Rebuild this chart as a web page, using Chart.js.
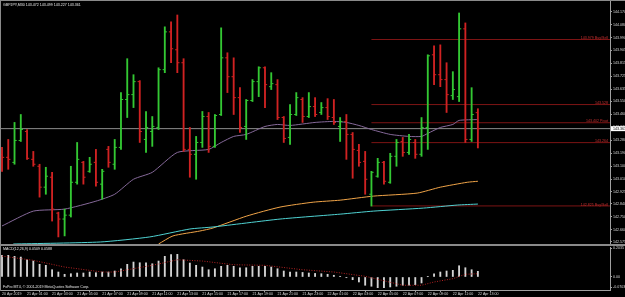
<!DOCTYPE html>
<html>
<head>
<meta charset="utf-8">
<script src="https://cdn.jsdelivr.net/npm/chart.js@4.4.0/dist/chart.umd.min.js"></script>
<style>
  html, body { margin: 0; padding: 0; background: #000; }
  #wrap { position: relative; width: 625px; height: 297px; overflow: hidden; background: #000; }
  canvas { position: absolute; left: 0; }
  #main { top: 0; }
  #macd { top: 244px; }
  .rule { position: absolute; background: #8a8a8a; }
</style>
</head>
<body>
<div id="wrap">
  <canvas id="main" width="625" height="244"></canvas>
  <canvas id="macd" width="625" height="53"></canvas>
  <div class="rule" style="left:0;top:244px;width:625px;height:2px"></div>
  <div class="rule" style="left:0;top:0;width:625px;height:1px"></div>
  <div class="rule" style="left:0;top:0;width:1px;height:291px"></div>
</div>
<script>
// ---------- DATA (GBPJPY M30) ----------
const opens = [143.183,143.162,143.127,143.279,143.341,143.148,143.100,142.955,143.024,142.775,
  142.734,142.761,142.989,143.127,143.065,143.127,142.976,143.217,143.114,143.231,
  143.563,143.597,143.687,143.286,143.341,143.369,143.770,144.032,143.908,143.818,
  143.217,143.183,143.265,143.445,143.238,143.459,143.852,143.721,143.576,143.376,
  143.556,143.687,143.783,143.652,143.666,143.438,143.300,143.459,143.563,143.445,
  143.514,143.473,143.507,143.438,143.376,143.411,143.321,143.210,143.134,142.906,
  143.031,143.127,142.989,143.169,143.272,143.196,143.265,143.183,143.369,143.873,
  143.735,143.701,143.590,143.583,144.053,143.286,143.472];
const highs = [143.231,143.286,143.404,143.459,143.355,143.203,143.114,143.093,143.058,142.782,
  142.803,143.100,143.265,143.134,143.162,143.217,143.079,143.238,143.286,143.611,
  143.846,143.735,143.694,143.480,143.445,143.783,144.067,144.101,144.149,143.846,
  143.369,143.307,143.480,143.473,143.459,144.060,143.887,143.852,143.645,143.563,
  143.701,143.790,143.790,143.749,143.701,143.445,143.528,143.611,143.576,143.611,
  143.576,143.542,143.569,143.563,143.438,143.459,143.334,143.252,143.203,143.065,
  143.155,143.134,143.190,143.286,143.300,143.321,143.286,143.438,143.873,143.935,
  143.942,143.818,143.756,144.163,144.094,143.645,143.499];
const lows = [143.065,143.079,143.114,143.272,143.148,143.100,142.886,142.906,142.720,142.610,
  142.617,142.748,142.976,142.976,143.058,142.962,142.872,143.093,143.079,143.217,
  143.438,143.507,143.265,143.196,143.238,143.355,143.749,143.818,143.749,143.203,
  143.024,143.010,143.231,143.196,143.231,143.452,143.611,143.459,143.334,143.286,
  143.549,143.583,143.507,143.632,143.424,143.265,143.252,143.452,143.404,143.438,
  143.445,143.459,143.424,143.390,143.272,143.148,143.017,143.100,142.906,142.824,
  143.024,142.976,142.982,143.100,143.169,143.183,143.155,143.169,143.217,143.666,
  143.652,143.473,143.563,143.549,143.265,143.272,143.227];
const closes = [143.162,143.148,143.279,143.355,143.155,143.114,142.955,143.031,142.803,142.734,
  142.761,142.989,143.148,143.024,143.114,142.989,143.065,143.127,143.231,143.563,
  143.597,143.687,143.341,143.369,143.376,143.770,144.032,143.915,143.818,143.217,
  143.183,143.265,143.445,143.238,143.452,143.852,143.721,143.576,143.369,143.556,
  143.687,143.783,143.666,143.673,143.438,143.293,143.459,143.576,143.445,143.514,
  143.459,143.507,143.445,143.404,143.411,143.321,143.217,143.127,143.010,143.058,
  143.127,142.996,143.169,143.265,143.196,143.286,143.183,143.369,143.866,143.735,
  143.701,143.597,143.632,144.053,143.286,143.459,143.361];

// moving averages, read at sample bars
const maFastIdx = [0, 5, 10, 15, 18, 21, 24, 28, 33, 35, 37, 39, 42, 44, 46, 50, 53, 55, 57, 59, 62, 65, 67, 68, 70, 72, 73, 76];
const maFastVal = [142.686,142.789,142.803,142.858,142.906,143.010,143.058,143.196,143.217,143.265,143.307,143.321,143.376,143.390,
  143.383,143.404,143.411,143.404,143.383,143.355,143.321,143.307,143.307,143.328,143.369,143.390,143.418,143.424];
const maMidIdx = [25, 27.3, 31.6, 33.7, 39.1, 44.4, 49.7, 54, 59.3, 66.3, 70, 74.3, 76];
const maMidVal = [142.561,142.617,142.651,142.672,142.755,142.817,142.851,142.865,142.893,142.914,142.955,142.989,142.996];
const maSlowIdx = [1.8, 15.7, 23.6, 30, 33.7, 44.4, 54, 59.3, 67.3, 72.7, 76];
const maSlowVal = [142.561,142.575,142.610,142.665,142.679,142.734,142.768,142.789,142.810,142.831,142.838];

// horizontal levels
const levelVals = [143.979, 143.528, 143.402, 143.264, 142.825];
const levelNames = ['143.979 Buy/Sell', '143.528', '143.402 Pivot', '143.264', '142.825 Buy/Sell'];
const levelFrom = 59;
const bidPrice = 143.361;

const priceTicks = [144.170,144.080,143.990,143.905,143.815,143.725,143.635,143.550,143.460,143.370,
  143.280,143.190,143.100,143.010,142.925,142.840,142.750,142.660,142.575];

// MACD(12,26,9)
const macdHist = [0.152,0.152,0.145,0.140,0.121,0.112,0.089,0.082,0.051,0.035,
  0.019,0.023,0.028,0.028,0.035,0.030,0.035,0.035,0.042,0.058,
  0.089,0.105,0.100,0.100,0.093,0.112,0.145,0.157,0.159,0.121,
  0.098,0.082,0.070,0.051,0.058,0.075,0.082,0.075,0.065,0.065,
  0.075,0.075,0.075,0.070,0.058,0.042,0.035,0.035,0.032,0.028,
  0.025,0.023,0.019,0.012,0.005,-0.005,-0.019,-0.035,-0.058,-0.065,
  -0.075,-0.075,-0.070,-0.065,-0.058,-0.058,-0.054,-0.042,0.002,0.023,
  0.035,0.042,0.047,0.079,0.065,0.051,0.040];
const signalIdx = [0, 5, 10, 16, 18, 24, 28, 32, 37, 42, 48, 53, 58, 64, 67, 69, 72, 74, 76];
const signalVal = [0.147,0.117,0.070,0.035,0.035,0.082,0.121,0.112,0.086,0.082,0.051,0.035,0.005,-0.058,-0.058,-0.035,-0.012,0.019,0.023];
const macdTickVals = [-0.0703, 0, 0.2035];
const macdTickLabels = ['-0.0703', '0.00', '0.2035'];

const timeTickIdx = [0,4,8,12,16,20,24,28,32,36,40,44,48,52,56,60,64,68,72,76];
const timeTickLabels = ['20 Apr 2019','21 Apr 01:00','21 Apr 03:00','21 Apr 05:00','21 Apr 07:00','21 Apr 09:00',
  '21 Apr 11:00','21 Apr 13:00','21 Apr 15:00','21 Apr 17:00','21 Apr 19:00','21 Apr 21:00','21 Apr 23:00',
  '22 Apr 01:00','22 Apr 03:00','22 Apr 05:00','22 Apr 07:00','22 Apr 09:00','22 Apr 11:00','22 Apr 13:00'];

const titleText = 'GBPJPY,M30 143.472 143.499 143.227 143.361';
const macdTitle = 'MACD(12,26,9) 0.0509 0.0588';
const copyText = 'FxPro MT4, \u00A9 2001-2019 MetaQuotes Software Corp.';

// ---------- STYLE ----------
const X_MIN = -0.32, X_MAX = 97.1;
const FONT = 'Liberation Sans';
const upCol = '#33c833', dnCol = '#d02222';
const axisCol = '#a0a0a0', textCol = '#d8d8d8';
const idx = opens.map((_, i) => i);
const barCol = idx.map(i => closes[i] >= opens[i] ? upCol : dnCol);
const pairs = (xs, ys) => xs.map((x, i) => ({ x, y: ys[i] }));

Chart.defaults.font.family = FONT;
Chart.defaults.animation = false;

const tickLine = (dx, vals) => ({
  type: 'line', showLine: false, order: 0,
  data: idx.map(i => ({ x: i + dx, y: vals[i] })),
  pointStyle: 'line', pointRadius: 1.1, pointHoverRadius: 0, pointBorderWidth: 1, pointBorderColor: barCol
});
const maLine = (xs, ys, color) => ({
  type: 'line', order: 2, data: pairs(xs, ys),
  borderColor: color, borderWidth: 1, pointRadius: 0, pointHoverRadius: 0, tension: 0.2
});

// ---------- MAIN PANEL ----------
const mainOverlay = {
  id: 'mainOverlay',
  afterDraw(chart) {
    const { ctx, scales: { y } } = chart;
    ctx.save();
    ctx.font = `3.6px "${FONT}"`;
    ctx.fillStyle = '#e8e8e8';
    ctx.textBaseline = 'middle';
    ctx.fillText(titleText, 3, 5);

    ctx.textAlign = 'right';
    ctx.textBaseline = 'bottom';
    ctx.fillStyle = '#c83030';
    levelVals.forEach((v, k) => ctx.fillText(levelNames[k], 608, y.getPixelForValue(v) + 0.5));

    const py = y.getPixelForValue(bidPrice);
    ctx.fillStyle = '#fff';
    ctx.fillRect(611, py - 2.5, 14, 5);
    ctx.fillStyle = '#000';
    ctx.textAlign = 'left';
    ctx.textBaseline = 'middle';
    ctx.fillText(bidPrice.toFixed(3), 613, py);
    ctx.restore();
  }
};

new Chart(document.getElementById('main'), {
  type: 'bar',
  data: {
    datasets: [
      ...levelVals.map(v => ({
        type: 'line', order: 3, data: [{ x: levelFrom, y: v }, { x: X_MAX, y: v }],
        borderColor: '#7c1414', borderWidth: 1, pointRadius: 0, pointHoverRadius: 0
      })),
      { type: 'line', order: 3, data: [{ x: X_MIN, y: bidPrice }, { x: X_MAX, y: bidPrice }],
        borderColor: '#8c8c8c', borderWidth: 1, pointRadius: 0, pointHoverRadius: 0 },
      maLine(maSlowIdx, maSlowVal, '#4fd2d2'),
      maLine(maMidIdx, maMidVal, '#f0a448'),
      maLine(maFastIdx, maFastVal, '#86699a'),
      { order: 1, data: idx.map(i => ({ x: i, y: [lows[i], highs[i]] })),
        backgroundColor: barCol, barThickness: 1.2, grouped: false },
      tickLine(-0.17, opens),
      tickLine(0.17, closes)
    ]
  },
  options: {
    responsive: false,
    layout: { padding: 0, autoPadding: false },
    events: [],
    plugins: { legend: { display: false }, tooltip: { enabled: false } },
    scales: {
      x: { type: 'linear', min: X_MIN, max: X_MAX, offset: false, display: false },
      y: {
        position: 'right', min: 142.561, max: 144.253, beginAtZero: false,
        afterBuildTicks: s => { s.ticks = priceTicks.map(v => ({ value: v })); },
        afterFit: s => { s.width = 15; s.paddingTop = 0; s.paddingBottom = 0; },
        ticks: { callback: v => v.toFixed(3), color: textCol, font: { size: 3.6 }, padding: 1 },
        grid: { drawOnChartArea: false, tickLength: 2, color: axisCol },
        border: { color: axisCol }
      }
    }
  },
  plugins: [mainOverlay]
});

// ---------- MACD PANEL ----------
const macdOverlay = {
  id: 'macdOverlay',
  afterDraw(chart) {
    const { ctx } = chart;
    ctx.save();
    ctx.font = `3.6px "${FONT}"`;
    ctx.fillStyle = '#e8e8e8';
    ctx.textBaseline = 'middle';
    ctx.fillText(macdTitle, 3, 5);
    ctx.fillText(copyText, 3, 43);
    ctx.restore();
  }
};

new Chart(document.getElementById('macd'), {
  type: 'bar',
  data: {
    datasets: [
      { type: 'line', order: 0, data: pairs(signalIdx, signalVal),
        borderColor: '#b22222', borderWidth: 1, borderDash: [1, 1.5], pointRadius: 0, pointHoverRadius: 0 },
      { order: 1, data: idx.map(i => ({ x: i, y: macdHist[i] })),
        backgroundColor: '#d4d4d4', barThickness: 1.2, grouped: false }
    ]
  },
  options: {
    responsive: false,
    layout: { padding: { top: 3 }, autoPadding: false },
    events: [],
    plugins: { legend: { display: false }, tooltip: { enabled: false } },
    scales: {
      x: {
        type: 'linear', min: X_MIN, max: X_MAX, offset: false,
        afterBuildTicks: s => { s.ticks = timeTickIdx.map(v => ({ value: v })); },
        afterFit: s => { s.height = 7; s.paddingLeft = 0; s.paddingRight = 0; },
        ticks: { callback: (v, i) => timeTickLabels[i], autoSkip: false, maxRotation: 0, minRotation: 0,
          align: 'start', padding: 0, color: textCol, font: { size: 3.6 } },
        grid: { drawOnChartArea: false, tickLength: 2, color: axisCol },
        border: { color: axisCol }
      },
      y: {
        position: 'right', min: -0.0913, max: 0.2106, beginAtZero: false,
        afterBuildTicks: s => { s.ticks = macdTickVals.map(v => ({ value: v })); },
        afterFit: s => { s.width = 15; s.paddingTop = 0; s.paddingBottom = 0; },
        ticks: { callback: (v, i) => macdTickLabels[i], color: textCol, font: { size: 3.6 }, padding: 1 },
        grid: { drawOnChartArea: false, tickLength: 2, color: axisCol },
        border: { color: axisCol }
      }
    }
  },
  plugins: [macdOverlay]
});
</script>
</body>
</html>
